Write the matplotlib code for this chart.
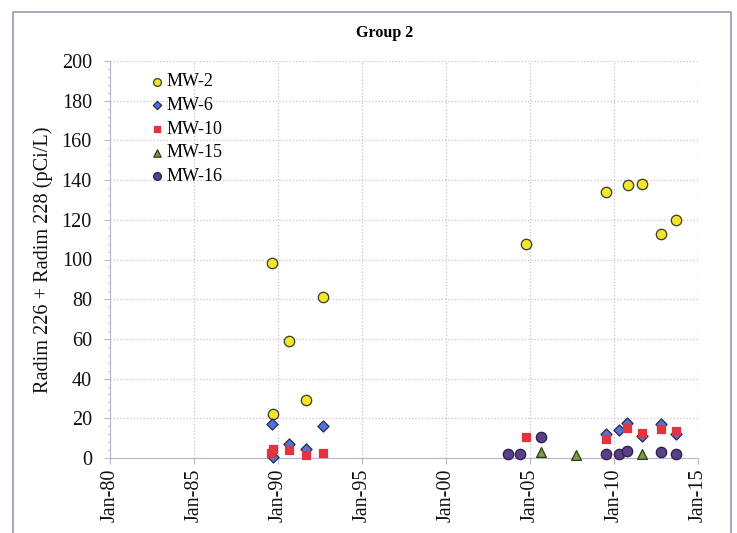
import matplotlib
matplotlib.use("Agg")
from matplotlib import pyplot as plt
import matplotlib.dates as mdates
from matplotlib.patches import Rectangle
import numpy as np

plt.rcParams['font.family'] = ['Liberation Serif', 'DejaVu Serif']

# sample dates and values
mw2_dates = ["1989-08-20", "1989-09-10", "1990-08-25", "1991-09-01", "1992-09-05",
             "2004-09-25", "2009-07-08", "2010-10-22", "2011-09-08", "2012-10-20", "2013-09-15"]
mw2_vals = [98, 22, 59, 29, 81, 108, 134, 137.5, 138, 113, 120]

mw6_dates = ["1989-08-15", "1989-09-20", "1990-08-20", "1991-09-10", "1992-08-28",
             "2009-07-08", "2010-04-20", "2010-10-01", "2011-09-08", "2012-10-20", "2013-09-12"]
mw6_vals = [17, 0.5, 7, 4.5, 16, 12, 14, 17.5, 11, 17, 12]

mw10_dates = ["1989-09-05", "1989-07-22", "1990-08-20", "1991-09-10", "1992-09-10",
              "2004-09-25", "2009-07-08", "2010-10-01", "2011-09-08", "2012-10-20", "2013-09-12"]
mw10_vals = [4.5, 2.3, 4, 1.5, 2.7, 10.7, 9.7, 15, 12.8, 14.4, 13.6]

mw15_dates = ["2005-09-01", "2007-09-27", "2011-09-08"]
mw15_vals = [3, 1.5, 1.8]

mw16_dates = ["2003-09-15", "2004-05-22", "2005-09-01", "2009-07-08", "2010-04-25",
              "2010-10-01", "2012-10-20", "2013-09-12"]
mw16_vals = [1.9, 2.2, 10.4, 2.2, 2.2, 3.7, 3, 2.2]

series = [
    ("MW-2", mw2_dates, mw2_vals, "o", "#f2e52a", "#3a3a2a", 56),
    ("MW-6", mw6_dates, mw6_vals, "D", "#4f74d9", "#2a2a4a", 32),
    ("MW-10", mw10_dates, mw10_vals, "s", "#e0353f", "#e0353f", 40),
    ("MW-15", mw15_dates, mw15_vals, "^", "#7d9a3c", "#2e3a20", 50),
    ("MW-16", mw16_dates, mw16_vals, "o", "#5b3d8c", "#2a2040", 56),
]

fig = plt.figure(figsize=(7.37, 5.33), dpi=100)
fig.patches.append(Rectangle((13 / 737, -0.05), (731 - 13) / 737, 1.05 - 12 / 533,
                             transform=fig.transFigure, fill=False,
                             edgecolor="#9a98b0", linewidth=1.2))
ax = fig.add_axes([110 / 737, 1 - 458 / 533, (698 - 110) / 737, (458 - 61) / 533])

for name, d, v, m, fc, ec, s in series:
    x = np.array(d, dtype="datetime64[D]")
    ax.scatter(x, v, marker=m, s=s, facecolor=fc, edgecolor=ec, linewidth=0.9,
               label=name, zorder=3, clip_on=False)

ax.set_xlim(np.datetime64("1980-01-01"), np.datetime64("2015-01-01"))
ax.set_ylim(0, 200)
ax.set_xticks([np.datetime64(f"{y}-01-01") for y in range(1980, 2016, 5)])
ax.xaxis.set_major_formatter(mdates.DateFormatter("%b-%y"))
ax.set_yticks(range(0, 201, 20))
ax.yaxis.set_minor_locator(plt.MultipleLocator(4))
plt.setp(ax.get_xticklabels(), rotation=90)
ax.tick_params(axis="both", labelsize=14.5, colors="#b8b6cc", labelcolor="#111111",
               length=4)
ax.tick_params(axis="y", pad=9)
ax.tick_params(axis="y", which="minor", length=2, colors="#c8c6d8")

ax.grid(True, linestyle=":", color="#c4c2d6", linewidth=0.9)
ax.set_axisbelow(True)
for side in ["top", "right"]:
    ax.spines[side].set_visible(False)
for side in ["left", "bottom"]:
    ax.spines[side].set_color("#b8b6cc")

ax.set_ylabel("Radim 226 + Radim 228 (pCi/L)", fontsize=14.6, color="#111111",
              labelpad=6)
fig.text(385 / 737, 1 - 33 / 533, "Group 2", ha="center", va="center",
         fontsize=11.5, fontweight="bold")

ax.legend(loc="upper left", bbox_to_anchor=(0.038, 1.01), frameon=False,
          fontsize=13, handlelength=0.9, handletextpad=0.1, labelspacing=0.37,
          markerscale=0.75)

fig.savefig("out.png", dpi=100)
